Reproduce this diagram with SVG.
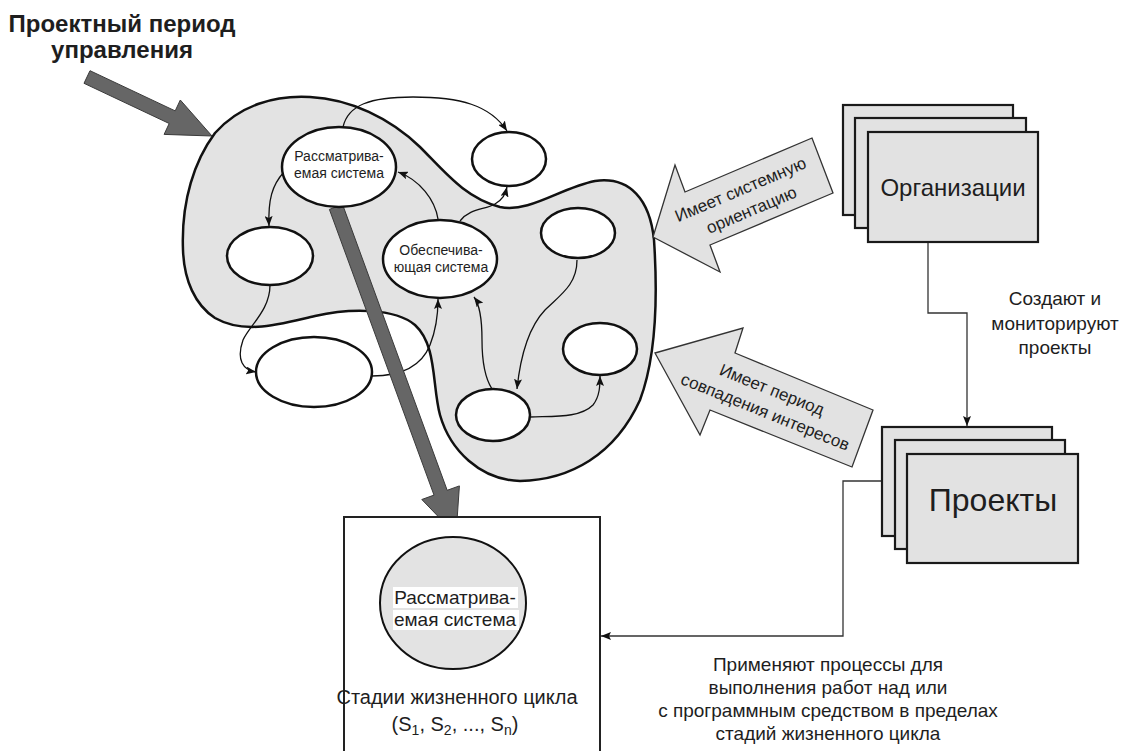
<svg xmlns="http://www.w3.org/2000/svg" width="1121" height="751" viewBox="0 0 1121 751">
<style>
text{font-family:"Liberation Sans",Arial,sans-serif;fill:#1e1e1e}
.title{font-size:24px;font-weight:bold;text-anchor:middle}
.small{font-size:14px;text-anchor:middle}
.lbl{font-size:19px;text-anchor:middle}
.arr{font-size:17px;text-anchor:middle}
.blob{fill:#e3e3e3;stroke:#111;stroke-width:2.5}
.ell{fill:#fff;stroke:#111;stroke-width:2.5}
.conn{fill:none;stroke:#111;stroke-width:1.3;marker-end:url(#ah)}
.line{fill:none;stroke:#333;stroke-width:1.3;marker-end:url(#ah)}
.dark{fill:#666;stroke:#3a3a3a;stroke-width:1}
.garrow{fill:#e2e2e2;stroke:#333;stroke-width:1.3}
.card{fill:#e2e2e2;stroke:#1a1a1a;stroke-width:2.2}
</style>
<defs>
<marker id="ah" viewBox="0 0 10 8" refX="10" refY="4" markerWidth="10" markerHeight="8" markerUnits="userSpaceOnUse" orient="auto"><path d="M0,0 L10,4 L0,8 L2,4 z" fill="#111"/></marker>
</defs>
<rect width="1121" height="751" fill="#fff"/>

<g id="title">
<text class="title" x="122" y="32">Проектный период</text>
<text class="title" x="122" y="58">управления</text>
</g>

<g id="arrow-period">
<polygon class="dark" points="90,70.7 175.2,110.9 180.3,100 212,136 164.1,134.4 169.2,123.5 84,83.3"/>
</g>

<g id="system-cluster">
<path class="blob" d="M183,250 C181,200 195,160 215,133 C240,105 275,95 310,97 C350,99 390,118 420,147 C445,172 465,198 500,207 C530,213 560,188 595,181 C630,176 650,200 654,240 C658,300 655,360 640,400 C615,455 570,480 520,481 C480,480 450,450 440,415 C432,385 437,345 415,325 C395,308 350,308 315,316 C280,324 245,335 215,318 C195,305 184,280 183,250 Z"/>
</g>

<g id="connectors">
<path class="conn" d="M343,127 C348,105 370,97 413,97 C460,97 490,105 507,131"/>
<path class="conn" d="M284,172 C272,185 268,200 269,226"/>
<path class="conn" d="M438,219 C435,200 420,180 398,172"/>
<path class="conn" d="M460,221 C470,208 485,210 495,204 C503,199 505,195 507,187"/>
<path class="conn" d="M270,285 C270,310 250,325 243,340 C236,360 243,370 256,372"/>
<path class="conn" d="M372,376 C395,376 420,370 430,345 C436,330 438,315 438,299"/>
<path class="conn" d="M492,389 C485,378 482,360 482,340 C482,320 480,305 474,297"/>
<path class="conn" d="M577,260 C577,285 560,295 545,310 C528,328 520,360 517,389"/>
<path class="conn" d="M530,417 C555,416 580,418 593,405 C600,396 600,385 600,376"/>
<path class="line" d="M928,242 V313 H967 V426"/>
<path class="line" d="M882,481 H843 V636 H601"/>
</g>

<g id="n-top"><ellipse class="ell" cx="509" cy="159" rx="37" ry="27"/></g>
<g id="n-left"><ellipse class="ell" cx="270" cy="256" rx="43" ry="29"/></g>
<g id="n-os">
<ellipse class="ell" cx="440" cy="259" rx="57" ry="39"/>
<text class="small" x="441" y="255">Обеспечива-</text>
<text class="small" x="441" y="272">ющая система</text>
</g>
<g id="n-right-up"><ellipse class="ell" cx="578" cy="233" rx="37" ry="25"/></g>
<g id="n-right-low"><ellipse class="ell" cx="600" cy="349" rx="37" ry="26"/></g>
<g id="n-mid-low"><ellipse class="ell" cx="493" cy="415" rx="37" ry="26"/></g>
<g id="n-bottom-left"><ellipse class="ell" cx="314" cy="372" rx="58" ry="35"/></g>

<g id="arrow-lifecycle">
<polygon class="dark" points="329.4,209.4 342.6,204.6 447.2,490.3 459.4,485.9 456,535 421.8,499.5 434,495.1"/>
</g>

<g id="n-rs">
<ellipse class="ell" cx="339" cy="167" rx="57" ry="40"/>
<text class="small" x="339" y="161">Рассматрива-</text>
<text class="small" x="339" y="178">емая система</text>
</g>

<g id="arrow-orientation">
<polygon class="garrow" points="653,237 675,165 685,192 812,138 833,193 710,245 720,272"/>
<g transform="translate(746,200) rotate(-23)">
<text class="arr" x="-1" y="-6">Имеет системную</text>
<text class="arr" x="1" y="17">ориентацию</text>
</g>
</g>

<g id="arrow-interest">
<polygon class="garrow" points="655,353 743,328 735,353 873,410 852,467 710,410 700,435"/>
<g transform="translate(768.5,401) rotate(22)">
<text class="arr" x="-1" y="-6">Имеет период</text>
<text class="arr" x="1" y="17">совпадения интересов</text>
</g>
</g>

<g id="n-org">
<rect class="card" x="843" y="105" width="170" height="110"/>
<rect class="card" x="855" y="118" width="171" height="110"/>
<rect class="card" x="868" y="132" width="170" height="110"/>
<text x="953" y="196" font-size="24" text-anchor="middle">Организации</text>
</g>

<g id="lbl-create">
<text class="lbl" x="1055" y="305">Создают и</text>
<text class="lbl" x="1055" y="330">мониторируют</text>
<text class="lbl" x="1055" y="354">проекты</text>
</g>

<g id="n-proj">
<rect class="card" x="882" y="427" width="170" height="109"/>
<rect class="card" x="895" y="440" width="170" height="109"/>
<rect class="card" x="907" y="454" width="171" height="109"/>
<text x="993" y="511" font-size="32" text-anchor="middle">Проекты</text>
</g>

<g id="n-lifecycle">
<path d="M344,760 V517 H600 V760" fill="#fff" stroke="#222" stroke-width="2"/>
<ellipse cx="453" cy="603" rx="73" ry="66" fill="#e3e3e3" stroke="#111" stroke-width="2"/>
<rect x="393" y="587" width="125" height="21" fill="#fff"/>
<rect x="393" y="610" width="126" height="20" fill="#fff"/>
<text x="455" y="604" font-size="19" text-anchor="middle">Рассматрива-</text>
<text x="455" y="626" font-size="19" text-anchor="middle">емая система</text>
<text x="457" y="704" font-size="20" text-anchor="middle">Стадии жизненного цикла</text>
<text x="455" y="731" font-size="20" text-anchor="middle">(S<tspan font-size="14" dy="4">1</tspan><tspan dy="-4">, S</tspan><tspan font-size="14" dy="4">2</tspan><tspan dy="-4">, ..., S</tspan><tspan font-size="14" dy="4">n</tspan><tspan dy="-4">)</tspan></text>
</g>

<g id="lbl-apply">
<text class="lbl" x="828" y="671">Применяют процессы для</text>
<text class="lbl" x="828" y="694">выполнения работ над или</text>
<text class="lbl" x="828" y="717">с программным средством в пределах</text>
<text class="lbl" x="828" y="740">стадий жизненного цикла</text>
</g>
</svg>
